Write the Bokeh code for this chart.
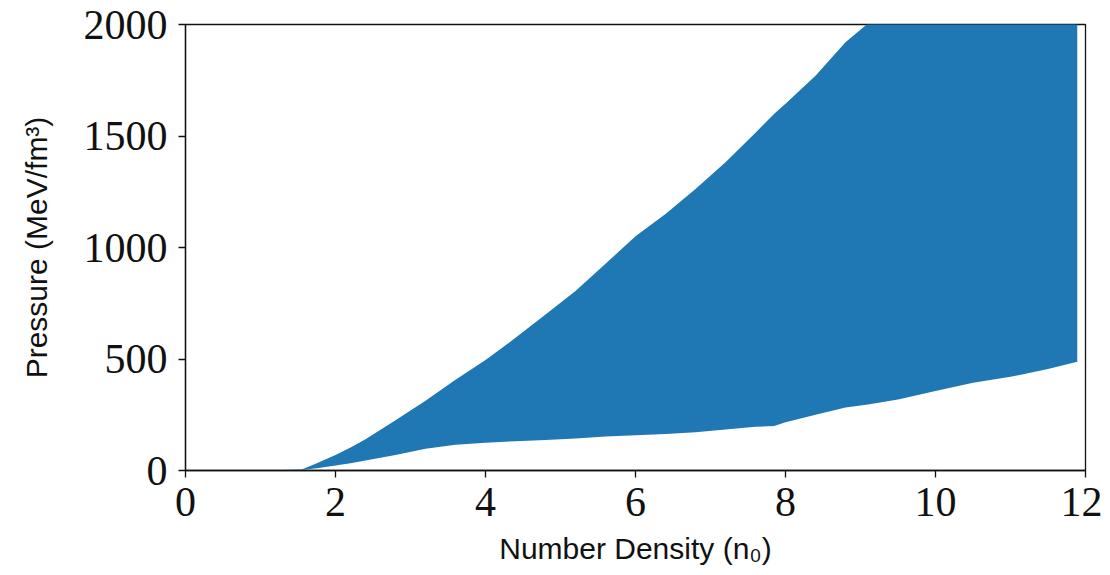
from bokeh.plotting import figure
from bokeh.models import Range1d, FixedTicker
from bokeh.embed import file_html
from bokeh.resources import INLINE

# ---- data ----
density = [1.0, 1.3, 1.55, 1.75, 2.0, 2.2, 2.4, 2.8, 3.2, 3.6, 4.0, 4.4, 4.8,
           5.2, 5.6, 6.0, 6.4, 6.8, 7.2, 7.6, 7.85, 8.0, 8.4, 8.8, 9.1, 9.5,
           10.0, 10.5, 11.0, 11.5, 11.89]
pressure_upper = [0, 2, 5, 33, 70, 103, 140, 225, 313, 407, 495, 595, 700,
                  805, 927, 1050, 1150, 1262, 1382, 1515, 1600, 1645, 1770,
                  1920, 2005, 2150, 2350, 2550, 2750, 2950, 3100]
pressure_lower = [0, 0, 2, 10, 22, 33, 45, 70, 97, 115, 125, 131, 137,
                  143, 152, 158, 164, 172, 184, 196, 200, 216, 250, 283, 296,
                  318, 356, 393, 420, 455, 488]
x_ticks = [0, 2, 4, 6, 8, 10, 12]
y_ticks = [0, 500, 1000, 1500, 2000]
x_title = "Number Density (n\u2080)"
y_title = "Pressure (MeV/fm\u00b3)"

# ---- layout ----
FL, FT, FW, FH = 185, 24, 900, 446

p = figure(frame_width=FW, frame_height=FH,
           min_border_left=FL, min_border_top=FT,
           min_border_right=17, min_border_bottom=104,
           x_range=Range1d(0, 12), y_range=Range1d(0, 2000),
           output_backend="svg", toolbar_location=None)

p.varea(x=density, y1=pressure_lower, y2=pressure_upper,
        fill_color="#1f77b4", fill_alpha=1.0)

p.xgrid.visible = False
p.ygrid.visible = False
p.background_fill_color = "white"
p.border_fill_color = "white"
p.outline_line_color = "#111111"
p.outline_line_width = 1.3
p.outline_line_alpha = 1.0

for ax, ticks in ((p.xaxis[0], x_ticks), (p.yaxis[0], y_ticks)):
    ax.ticker = FixedTicker(ticks=ticks)
    ax.minor_tick_line_color = None
    ax.major_tick_out = 7
    ax.major_tick_in = 0
    ax.major_tick_line_width = 1.3
    ax.major_tick_line_color = "#111111"
    ax.axis_line_color = "#111111"
    ax.axis_line_width = 1.3
    ax.major_label_text_font = "Liberation Serif"
    ax.major_label_text_font_size = "42px"
    ax.major_label_text_color = "#111111"
    ax.axis_label_text_font = "Liberation Sans"
    ax.axis_label_text_font_style = "normal"
    ax.axis_label_text_font_size = "30px"
    ax.axis_label_text_color = "#111111"

p.xaxis[0].axis_label = x_title
p.yaxis[0].axis_label = y_title
p.xaxis[0].major_label_standoff = 10
p.yaxis[0].major_label_standoff = 11
p.xaxis[0].axis_label_standoff = 13
p.yaxis[0].axis_label_standoff = 28

open("out.html", "w").write(file_html(p, INLINE))
